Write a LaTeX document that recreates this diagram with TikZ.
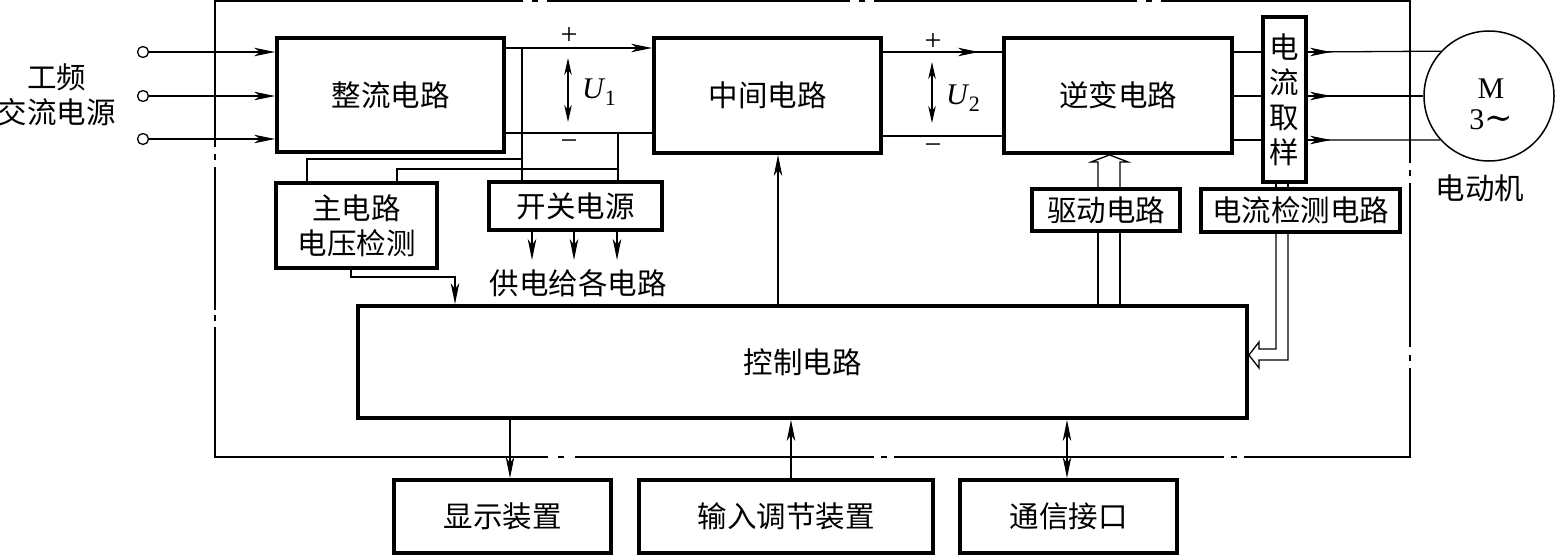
\documentclass[tikz,border=0pt]{standalone}
\usepackage{fontspec}
\newfontfamily\cjk{Noto Sans CJK SC}
\newfontfamily\tms{Liberation Serif}
\newfontfamily\djs{DejaVu Serif}
\usetikzlibrary{arrows.meta}
\newcommand{\volt}[1]{{\itshape U}\kern1pt\raisebox{-7pt}{\fontsize{22}{24}\selectfont #1}}
\begin{document}
\begin{tikzpicture}[x=1pt,y=-1pt,
  >={Stealth[length=21pt,width=8.5pt,inset=6pt]},
  ln/.style={line width=1.3pt},
  frame/.style={line width=1.8pt},
  box/.style={draw,line width=3.8pt,inner sep=0pt,align=center,font=\cjk\fontsize{29.5}{35}\selectfont},
  txt/.style={inner sep=0pt,align=center,font=\cjk\fontsize{29.5}{35}\selectfont},
  sgn/.style={inner sep=0pt,font=\tms\fontsize{30}{30}\selectfont},
  mth/.style={inner sep=0pt,font=\tms\fontsize{30}{34}\selectfont},
  term/.style={draw,circle,line width=1.3pt,minimum size=11pt,inner sep=0pt}
]
\useasboundingbox (0,0) rectangle (1555,555);

% main boxes
\node[box,minimum width=227pt,minimum height=114pt] (zl) at (390.5,95) {整流电路};
\node[box,minimum width=227pt,minimum height=115pt] (zj) at (767.5,95.5) {中间电路};
\node[box,minimum width=228pt,minimum height=115pt] (nb) at (1118,95.5) {逆变电路};
\node[box,line width=3.4pt,minimum width=43pt,minimum height=165pt] (qy) at (1284.5,99.5) {电\\流\\取\\样};
\node[box,minimum width=161pt,minimum height=85pt] (zd) at (356.5,225.5) {主电路\\电压检测};
\node[box,minimum width=173pt,minimum height=48pt] (kg) at (575.5,206) {开关电源};
\node[box,minimum width=148pt,minimum height=42pt] (qd) at (1106,210) {驱动电路};
\node[box,minimum width=199pt,minimum height=43pt] (jc) at (1300.5,210.5) {电流检测电路};
\node[box,minimum width=889pt,minimum height=112pt] (kz) at (802.5,362) {控制电路};
\node[box,minimum width=217pt,minimum height=73pt] (xs) at (502.5,516.5) {显示装置};
\node[box,minimum width=294pt,minimum height=73pt] (sr) at (786,516.5) {输入调节装置};
\node[box,minimum width=217pt,minimum height=73pt] (tx) at (1068.5,516.5) {通信接口};

% motor
\node[draw,circle,line width=1.5pt,minimum size=130pt,inner sep=0pt] (motor) at (1489,96) {};
\node[inner sep=0pt,font=\tms\fontsize{30}{30}\selectfont] (mM) at (1491,89) {M};
\node[inner sep=0pt,font=\tms\fontsize{30}{30}\selectfont] (m3) at (1491,120) {3{\djs\fontsize{34}{30}\selectfont∼}};
\node[txt] (mlab) at (1480,188) {电动机};

% source
\node[txt] (src) at (57,94.5) {工频\\交流电源};
\node[term] (t1) at (143,52) {};
\node[term] (t2) at (143,96) {};
\node[term] (t3) at (143,139) {};
\draw[ln,->] (t1) -- (t1 -| zl.west);
\draw[ln,->] (t2) -- (t2 -| zl.west);
\draw[ln,->] (t3) -- (t3 -| zl.west);

% DC link 1
\coordinate (p1) at (zl.east |- 0,48);
\coordinate (m1) at (zl.east |- 0,133);
\draw[ln,->] (p1) -- (p1 -| zj.west);
\draw[ln] (m1) -- (m1 -| zj.west);
\draw[ln,{Stealth[length=17pt,width=7.5pt,inset=5pt]}-{Stealth[length=17pt,width=7.5pt,inset=5pt]}] (568,58) -- (568,122);
\node[sgn] (plus1) at (569,36) {+};
\node[sgn] (minus1) at (569,145) {−};
\node[mth] (u1) at (599,92) {\volt{1}};

% taps to switching supply and voltage detection
\coordinate (j1) at (522,48);
\coordinate (j2) at (618,133);
\draw[ln] (j1) -- (j1 |- kg.north);
\draw[ln] (j2) -- (j2 |- kg.north);
\draw[ln] (zd.north -| 307,0) -- (307,159) -- (522,159);
\draw[ln] (zd.north -| 397,0) -- (397,169) -- (618,169);

% switching supply outputs
\foreach \xx in {532,574,617}
  \draw[ln,->] (kg.south -| \xx,0) -- (\xx,260);
\node[txt] (gd) at (578,283) {供电给各电路};

% voltage detection to control
\draw[ln,->] (zd.south -| 351,0) -- (351,277) -- (455,277) -- (455,0 |- kz.north);

% control to intermediate circuit
\draw[ln,->] (kz.north -| 778,0) -- (zj.south -| 778,0);

% DC link 2
\coordinate (p2) at (zj.east |- 0,52);
\coordinate (m2) at (zj.east |- 0,136);
\draw[ln] (p2) -- (p2 -| nb.west);
\draw[ln,->] (p2) -- (979,52);
\draw[ln] (m2) -- (m2 -| nb.west);
\draw[ln,{Stealth[length=17pt,width=7.5pt,inset=5pt]}-{Stealth[length=17pt,width=7.5pt,inset=5pt]}] (932,62) -- (932,123);
\node[sgn] (plus2) at (933,42) {+};
\node[sgn] (minus2) at (933,149) {−};
\node[mth] (u2) at (963,98) {\volt{2}};

% inverter to current sampling to motor
\foreach \yy in {52,96,140}
  \draw[ln] (nb.east |- 0,\yy) -- (qy.west |- 0,\yy);
\draw[ln] (qy.east |- 0,52) -- (motor.137.4);
\draw[ln] (qy.east |- 0,96) -- (motor.west);
\draw[ln] (qy.east |- 0,140) -- (motor.222.6);
\foreach \yy in {52,96,140}
  \draw[ln,->] (qy.east |- 0,\yy) -- (1331,\yy);

% drive circuit hollow arrow
\draw[ln] (kz.north -| 1098,0) -- (qd.south -| 1098,0);
\draw[ln] (kz.north -| 1120,0) -- (qd.south -| 1120,0);
\draw[ln] (qd.north -| 1098,0) -- (1098,162) -- (1091,162) -- (nb.south -| 1109.5,0) -- (1128,162) -- (1120,162) -- (qd.north -| 1120,0);

% current detection hollow arrow
\draw[ln] (qy.south -| 1276,0) -- (jc.north -| 1276,0);
\draw[ln] (qy.south -| 1288,0) -- (jc.north -| 1288,0);
\draw[ln] (jc.south -| 1276,0) -- (1276,349) -- (1259,349) -- (1259,342) -- (kz.east |- 0,355) -- (1259,368) -- (1259,360) -- (1288,360) -- (jc.south -| 1288,0);

% bottom connections
\draw[ln,->] (kz.south -| 510,0) -- (xs.north -| 510,0);
\draw[ln,->] (sr.north -| 791,0) -- (kz.south -| 791,0);
\draw[ln,<->] (kz.south -| 1067,0) -- (tx.north -| 1067,0);

% outer dash-dot frame
\draw[frame] (523,1) -- (215,1) -- (215,147) (215,154) -- (215,160) (215,167) -- (215,310)
  (215,315) -- (215,321) (215,327) -- (215,457) -- (548,457) (558,457) -- (564,457)
  (575,457) -- (874,457) (881,457) -- (887,457) (894,457) -- (1224,457)
  (1231,457) -- (1237,457) (1244,457) -- (1410,457) -- (1410,368) (1410,361) -- (1410,355)
  (1410,347) -- (1410,183) (1410,176) -- (1410,170) (1410,163) -- (1410,1) -- (1161,1)
  (1152,1) -- (1146,1) (1137,1) -- (874,1) (865,1) -- (859,1) (850,1) -- (547,1)
  (538,1) -- (532,1);
\end{tikzpicture}
\end{document}
